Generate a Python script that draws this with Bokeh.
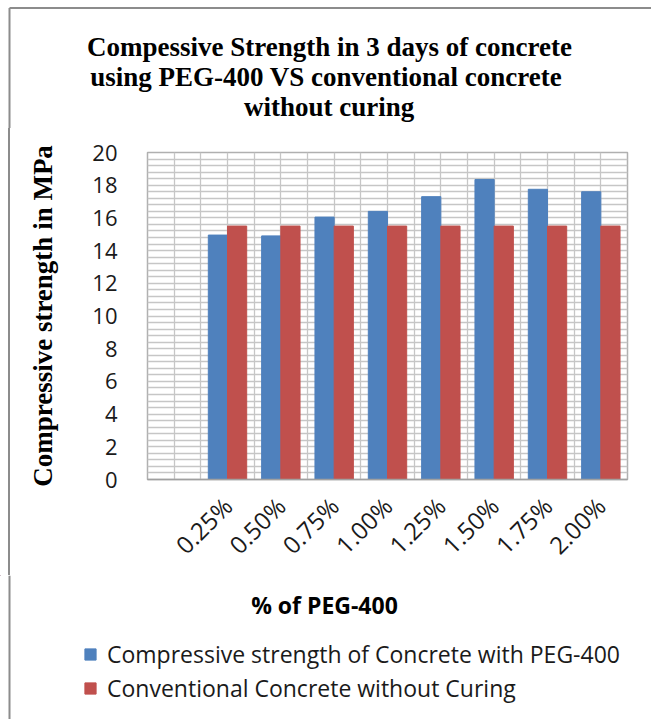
import numpy as np
from bokeh.plotting import figure
from bokeh.layouts import column, row
from bokeh.models import Range1d, FixedTicker, Legend, LegendItem, ColumnDataSource, Spacer
from bokeh.core.properties import value
from bokeh.embed import file_html
from bokeh.resources import INLINE

# ---- data ----
categories = ["0.25%", "0.50%", "0.75%", "1.00%", "1.25%", "1.50%", "1.75%", "2.00%"]
peg400 = [14.95, 14.9, 16.05, 16.4, 17.3, 18.35, 17.75, 17.6]
conventional = [15.5, 15.5, 15.5, 15.5, 15.5, 15.5, 15.5, 15.5]
y_ticks = [0, 2, 4, 6, 8, 10, 12, 14, 16, 18, 20]
series_names = ["Compressive strength of Concrete with PEG-400",
                "Conventional Concrete without Curing"]
title_lines = ["Compessive Strength in 3 days of concrete",
               "using  PEG-400 VS conventional concrete",
               "without  curing"]
x_title = "% of PEG-400"
y_title = "Compressive strength in MPa"

BLUE = "#4f81bd"
RED = "#c0504d"
BORDER = "#8c8c8c"
W = 651

def blank(fig):
    fig.axis.visible = False
    fig.grid.visible = False
    fig.outline_line_color = None
    fig.background_fill_color = "white"
    fig.border_fill_color = "white"
    return fig

# ---------------- title strip ----------------
TH = 128
pt = blank(figure(width=W, height=TH, output_backend="svg", toolbar_location=None,
                  x_range=Range1d(0, W), y_range=Range1d(TH, 0),
                  min_border=0))
pt.segment(x0=[9, 9], y0=[7.5, 7.5], x1=[W, 9], y1=[7.5, TH],
           line_color=BORDER, line_width=2)
pt.text(x=[329, 329, 332], y=[46, 76, 106], text=title_lines,
        text_align="center", text_baseline="middle",
        text_font=value("Liberation Serif"), text_font_style="bold",
        text_font_size="27px", text_color="black")

# ---------------- main chart ----------------
MH = 447
STRIP = 10
ps = Spacer(width=STRIP, height=MH,
            styles={"border-right": "2px solid " + BORDER, "box-sizing": "border-box"})

n_slots = len(categories) + 1          # first category slot is empty
centers = [i + 1.5 for i in range(len(categories))]
bar_w = 0.36

src = ColumnDataSource(dict(
    x_blue=[c - bar_w / 2 for c in centers],
    x_red=[c + bar_w / 2 for c in centers],
    peg=peg400, conv=conventional))

p = figure(width=W - STRIP, height=MH, output_backend="svg", toolbar_location=None,
           x_range=Range1d(0, n_slots), y_range=Range1d(0, 20),
           min_border_left=147 - STRIP, min_border_right=24, min_border_top=24,
           min_border_bottom=88)
p.background_fill_color = "white"
p.border_fill_color = "white"
p.outline_line_color = "#b0b0b0"
p.outline_line_width = 1.5

p.xgrid.ticker = FixedTicker(ticks=list(np.arange(0, n_slots + 0.01, 0.5)))
p.ygrid.ticker = FixedTicker(ticks=list(np.arange(0, 20.01, 0.4)))
p.xgrid.grid_line_color = "#c6c6c6"
p.ygrid.grid_line_color = "#c6c6c6"
p.xgrid.grid_line_width = 1.3
p.ygrid.grid_line_width = 1.3

p.vbar(x="x_blue", top="peg", width=bar_w, source=src, fill_color=BLUE, line_color=BLUE)
p.vbar(x="x_red", top="conv", width=bar_w, source=src, fill_color=RED, line_color=RED)

p.xaxis.ticker = FixedTicker(ticks=centers)
p.xaxis.major_label_overrides = {c: lab for c, lab in zip(centers, categories)}
p.xaxis.major_label_orientation = np.pi / 4
p.xaxis.major_label_text_font = "Open Sans"
p.xaxis.major_label_text_font_size = "24px"
p.xaxis.major_label_text_color = "#1a1a1a"
p.xaxis.major_label_standoff = 16
p.xaxis.major_tick_line_color = None
p.xaxis.minor_tick_line_color = None
p.xaxis.axis_line_color = "#a0a0a0"
p.xaxis.axis_line_width = 1.5

p.yaxis.ticker = FixedTicker(ticks=y_ticks)
p.yaxis.major_label_text_font = "Open Sans"
p.yaxis.major_label_text_font_size = "22px"
p.yaxis.major_label_text_color = "#1a1a1a"
p.yaxis.major_label_standoff = 24
p.yaxis.major_tick_line_color = None
p.yaxis.minor_tick_line_color = None
p.yaxis.axis_line_color = None
p.yaxis.axis_label = y_title
p.yaxis.axis_label_text_font = "Liberation Serif"
p.yaxis.axis_label_text_font_style = "bold"
p.yaxis.axis_label_text_font_size = "27px"
p.yaxis.axis_label_text_color = "black"
p.yaxis.axis_label_standoff = 31

# ---------------- bottom strip: x title + legend ----------------
BH = 719 - TH - MH
pb = blank(figure(width=W, height=BH, output_backend="svg", toolbar_location=None,
                  x_range=Range1d(0, W), y_range=Range1d(BH, 0), min_border=0))
pb.segment(x0=[9], y0=[0], x1=[9], y1=[BH], line_color=BORDER, line_width=2)
pb.text(x=[324], y=[29], text=[x_title], text_align="center", text_baseline="middle",
        text_font=value("Open Sans"), text_font_style="bold",
        text_font_size="23px", text_color="black")
# legend proxies (placed outside the visible range)
g1 = pb.vbar(x=[-100], top=[0], width=1, fill_color=BLUE, line_color=BLUE)
g2 = pb.vbar(x=[-100], top=[0], width=1, fill_color=RED, line_color=RED)
legend = Legend(items=[LegendItem(label=series_names[0], renderers=[g1]),
                       LegendItem(label=series_names[1], renderers=[g2])],
                location=(83, 15), orientation="vertical",
                label_text_font="Open Sans", label_text_font_size="23px",
                label_text_color="#1a1a1a",
                glyph_width=14, glyph_height=14, label_standoff=10,
                spacing=2, padding=0, margin=0,
                border_line_color=None, background_fill_alpha=0)
pb.add_layout(legend, "center")

layout = column(pt, row(ps, p), pb)
open("out.html", "w").write(file_html(layout, INLINE))
